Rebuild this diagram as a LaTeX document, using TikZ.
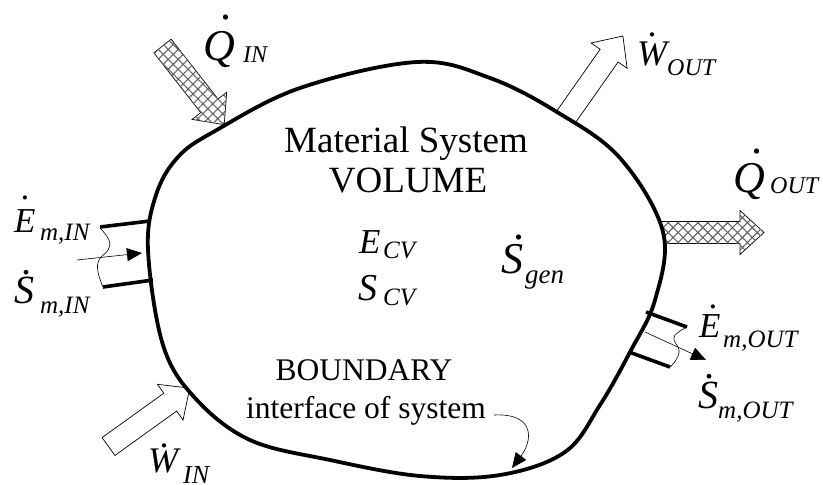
\documentclass[tikz,border=0pt]{standalone}
\usepackage{fontspec}
\setmainfont{Liberation Serif}
\usetikzlibrary{arrows.meta,patterns.meta}
\newcommand\fsz[1]{\fontsize{#1}{#1}\selectfont}
% dotted symbol: #1 horizontal shift of dot, #2 gap between letter top and dot, #3 letter
\newcommand\dt[3][0pt]{\leavevmode\setbox0\hbox{#3}\setbox2\hbox{\upshape.}\rlap{\kern\dimexpr(\wd0-\wd2)/2+#1\relax\raisebox{\dimexpr\ht0+#2\relax}{\box2}}\box0}
\newcommand\fatarrow[5]{%
  \begin{scope}[shift={(#2,#3)},rotate=#4]
    \draw[#1] (0,-11) -- ({#5-24},-11) -- ({#5-24},-22) -- (#5,0) -- ({#5-24},22) -- ({#5-24},11) -- (0,11) -- cycle;
  \end{scope}}
\begin{document}
\begin{tikzpicture}[x=1pt,y=-1pt,
  sym/.style={inner sep=0pt, anchor=base west},
  txt/.style={inner sep=0pt, anchor=base},
  heat/.style={line width=0.7pt, draw=black, fill=white, postaction={pattern={Hatch[angle=45,distance=7pt,line width=1.1pt]}, pattern color=black!60}},
  work/.style={line width=0.7pt, draw=black, fill=white},
  wall/.style={line width=3.8pt},
  pipe/.style={line width=3.6pt},
  flow/.style={line width=0.6pt, -{Triangle[length=15pt,width=13pt]}},
  wavy/.style={line width=0.6pt}]
\useasboundingbox (0,0) rectangle (823,485);
% energy arrows
\fatarrow{heat}{162.5}{46}{-51.9}{100}
\fatarrow{work}{566}{117}{54.9}{99}
\fatarrow{heat}{660}{232.5}{0}{104}
\fatarrow{work}{108.5}{446.5}{35.7}{100}
% system boundary
\draw[wall, fill=white] plot[smooth cycle, tension=0.6] coordinates {
 (148,250) (156,195) (178,157) (215,131) (300,88) (417,62) (490,78) (557,112)
 (620,158) (663,232) (655,300) (630,352) (600,405) (565,452) (500,475)
 (420,476) (330,460) (250,440) (195,398) (163,345)};
% inlet pipe
\coordinate (i1) at (100,227); \coordinate (i2) at (150,221);
\coordinate (i3) at (103,287); \coordinate (i4) at (153,280);
\draw[pipe] (i1) -- (i2);
\draw[pipe] (i3) -- (i4);
\draw[wavy] plot[smooth, tension=0.7] coordinates {(100,228) (109,240) (108,250) (99,260) (98,272) (103,287)};
\coordinate (ia) at (77,260); \coordinate (ib) at (142,253);
\draw[flow] (ia) -- (ib);
% outlet pipe
\coordinate (o1) at (646,312); \coordinate (o2) at (687,327);
\coordinate (o3) at (629,352); \coordinate (o4) at (670,367);
\draw[pipe] (o1) -- (o2);
\draw[pipe] (o3) -- (o4);
\draw[wavy] plot[smooth, tension=0.7] coordinates {(687,327) (674,337) (679,350) (676,360) (670,367)};
\coordinate (oa) at (645,332); \coordinate (ob) at (706,360);
\draw[flow] (oa) -- (ob);
% texts
\node[txt, font=\fsz{37}] (ms) at (406,152) {Material System};
\node[txt, font=\fsz{37}] (vol) at (408,192) {VOLUME};
\node[txt, font=\fsz{31.5}] (bd) at (364,380) {BOUNDARY};
\node[txt, font=\fsz{31.5}] (ifs) at (366,418) {interface of system};
\coordinate (bt) at (512,468);
\draw[flow] ([xshift=8pt,yshift=3pt]ifs.base east) .. controls (535,413) and (533,440) .. (bt);
% symbols
\node[sym, font=\fsz{44}\itshape] (qin) at (203,60) {\dt[7pt]{11pt}{Q}};
\node[sym, font=\fsz{24}\itshape] (qins) at (243,62) {IN};
\node[sym, font=\fsz{36}\itshape] (wout) at (637,65) {\dt[0pt]{5pt}{W}};
\node[sym, font=\fsz{24}\itshape] (wouts) at (667,75) {OUT};
\node[sym, font=\fsz{44}\itshape] (qout) at (733,192) {\dt[8pt]{9pt}{Q}};
\node[sym, font=\fsz{24}\itshape] (qouts) at (770,193) {OUT};
\node[sym, font=\fsz{35}\itshape] (emin) at (14,232) {\dt[0pt]{10pt}{E}};
\node[sym, font=\fsz{25}\itshape] (emins) at (40,240) {m,IN};
\node[sym, font=\fsz{40}\itshape] (smin) at (14,303) {\dt[2.5pt]{2pt}{S}};
\node[sym, font=\fsz{25}\itshape] (smins) at (40,313) {m,IN};
\node[sym, font=\fsz{35}\itshape] (emout) at (699,337) {\dt[3pt]{6pt}{E}};
\node[sym, font=\fsz{25}\itshape] (emouts) at (723,347) {m,OUT};
\node[sym, font=\fsz{40}\itshape] (smout) at (698,408) {\dt[1.5pt]{3pt}{S}};
\node[sym, font=\fsz{25}\itshape] (smouts) at (718,418) {m,OUT};
\node[sym, font=\fsz{36}\itshape] (win) at (148,472) {\dt[1pt]{1pt}{W}};
\node[sym, font=\fsz{26}\itshape] (wins) at (183,483) {IN};
\node[sym, font=\fsz{35}\itshape] (ecv) at (359,253) {E};
\node[sym, font=\fsz{25}\itshape] (ecvs) at (383,258) {CV};
\node[sym, font=\fsz{38}\itshape] (scv) at (358,300) {S};
\node[sym, font=\fsz{25}\itshape] (scvs) at (383,305) {CV};
\node[sym, font=\fsz{44}\itshape] (sgen) at (501,273) {\dt[6.5pt]{4pt}{S}};
\node[sym, font=\fsz{27}\itshape] (sgens) at (525,283) {gen};
\end{tikzpicture}
\end{document}
